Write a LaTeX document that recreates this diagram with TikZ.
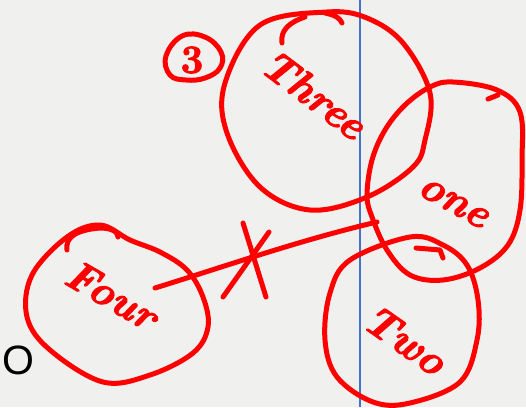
\documentclass[tikz,border=0pt]{standalone}
\usepackage{fontspec}
\newfontfamily\sansO{Liberation Sans}
\newfontfamily\hand[FakeBold=2.5]{Latin Modern Roman}
\definecolor{bg}{HTML}{F0F0EE}
\definecolor{ink}{HTML}{FF0000}
\definecolor{rule}{HTML}{4472C4}
\tikzset{
  pen/.style={draw=ink, line width=5pt, line cap=round, line join=round},
  word/.style={text=ink, font=\hand\fontsize{42}{46}\selectfont\bfseries\itshape, inner sep=0pt},
}
\begin{document}
\begin{tikzpicture}[x=1pt,y=-1pt]
\fill[bg] (0,0) rectangle (526,407);
\useasboundingbox (0,0) rectangle (526,407);
% blue vertical rule
\draw[rule, line width=1.5pt] (360,0) -- (360,407);
% circle Three
\draw[pen] plot[smooth cycle, tension=0.6] coordinates {(327,12) (367,18) (403,43) (430,93) (425,140) (413,167) (367,197) (310,210) (260,187) (227,133) (225,83) (260,25)};
\draw[pen] (282,43) .. controls (280,30) and (290,22) .. (305,17);
\draw[pen] (325,13) .. controls (335,15) and (340,18) .. (342,23);
% circle one
\draw[pen] plot[smooth cycle, tension=0.6] coordinates {(453,82) (497,90) (520,112) (522,160) (520,210) (508,245) (480,268) (443,280) (410,275) (387,250) (372,217) (367,195) (372,160) (385,130) (405,105) (430,87)};
\draw[pen] (488,99) -- (498,95);
% circle Two
\draw[pen] plot[smooth cycle, tension=0.6] coordinates {(410,237) (443,245) (467,265) (478,300) (477,340) (460,382) (410,403) (373,402) (337,377) (325,340) (330,293) (350,260)};
\draw[pen] (416,248) -- (440,250) -- (443,258);
% circle Four
\draw[pen] plot[smooth cycle, tension=0.6] coordinates {(100,225) (130,240) (160,252) (187,270) (203,297) (208,327) (193,353) (150,375) (103,382) (50,350) (27,317) (32,275) (67,237)};
\draw[pen] (67,250) .. controls (65,238) and (75,230) .. (100,228) .. controls (112,228) and (118,232) .. (118,237);
% circled 3
\draw[pen] plot[smooth cycle, tension=0.7] coordinates {(182,36) (205,37) (221,52) (220,68) (205,78) (186,80) (170,75) (166,56)};
\node[text=ink, font=\hand\fontsize{40}{42}\selectfont\bfseries, inner sep=0pt] (three3) at (192,60) {3};
% labels
\node[word, rotate=-37] (three) at (314,94) {Three};
\node[word, rotate=-29] (one) at (453,203) {one};
\node[word, rotate=-35] (two) at (405,340) {Two};
\node[word, rotate=-30] (four) at (112,295) {Four};
% connector with cross
\coordinate (fourEnd) at (155,288);
\coordinate (oneEnd) at (377,222);
\draw[pen] (fourEnd) .. controls (220,268) and (300,240) .. (oneEnd);
\coordinate (xa) at (243,223);
\coordinate (xb) at (266,297);
\coordinate (xc) at (269,232);
\coordinate (xd) at (223,297);
\draw[pen] (xa) -- (xb);
\draw[pen] (xc) -- (xd);
% black O
\node[font=\fontsize{41}{44}\sansO, inner sep=0pt] (o) at (18,360) {O};
\end{tikzpicture}
\end{document}
